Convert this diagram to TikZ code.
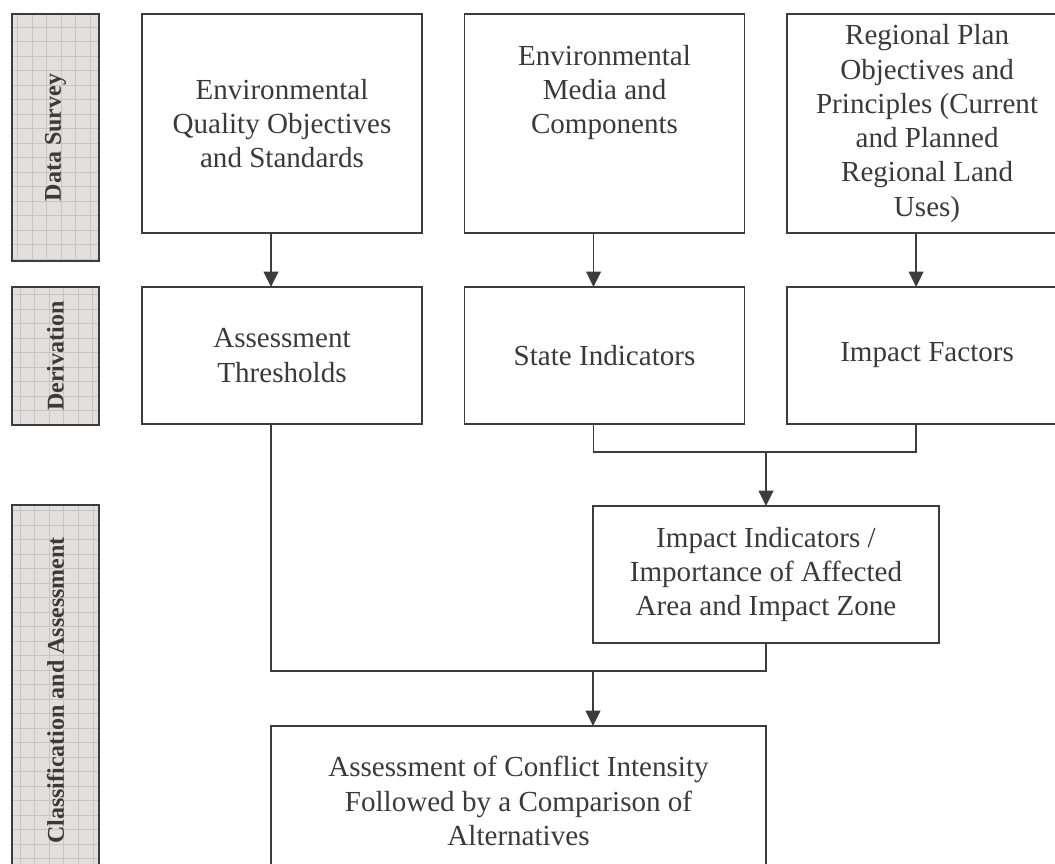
\documentclass[tikz,border=0pt]{standalone}
\usepackage{fontspec}
\setmainfont{Liberation Serif}
\usetikzlibrary{positioning, arrows.meta}
\definecolor{linegray}{HTML}{3C3C3E}
\definecolor{textgray}{HTML}{3A3A3A}
\definecolor{barfill}{HTML}{E3DFDF}
\definecolor{bargrid}{HTML}{C8C4C4}
\tikzset{
	>={Triangle[length=11.5pt,width=11pt]}, % punta de flecha rellena
	link/.style={draw=linegray, line width=1.2pt}, % lineas de conexion
	box/.style={draw=linegray, line width=1.3pt, text=textgray, align=center, outer sep=0pt, inner sep=2pt, font=\fontsize{21.8}{25.7}\selectfont}, % cajas del diagrama
	topbox/.style={box, minimum width=210pt, minimum height=164.25pt}, % fila de datos
	derbox/.style={box, minimum width=210pt, minimum height=102.75pt}, % fila de derivacion
	impbox/.style={box, minimum width=259.5pt, minimum height=102.75pt},
	endbox/.style={box, minimum width=371.25pt, minimum height=112.5pt},
	phase/.style={draw=linegray, line width=1.5pt, fill=barfill, rotate=90, outer sep=0pt,
		minimum height=65.25pt, text=textgray, font=\fontsize{18}{20}\selectfont\bfseries,
		path picture={\draw[bargrid, line width=0.5pt, step=10.875pt] (path picture bounding box.south west) grid (path picture bounding box.north east);}} % barras laterales
}

\begin{document}
\begin{tikzpicture}[x=0.75pt, y=-0.75pt]
	\clip (0,0) rectangle (1055,863);

	\node[phase, minimum width=185.25pt] (ds) at (55.5,137.5) {Data Survey};
	\node[phase, minimum width=103.5pt] (dv) at (55.5,356) {Derivation};
	\node[phase, minimum width=278.25pt] (ca) at (55.5,690.5) {Classification and Assessment};

	\node[topbox, anchor=north west] (eqo) at (142,14) {Environmental\\Quality Objectives\\and Standards};
	\node[topbox, right=31.9pt of eqo] (emc) {Environmental\\Media and\\Components\\~\\~};
	\node[topbox, right=31.9pt of emc] (rpo) {Regional Plan\\Objectives and\\Principles (Current\\and Planned\\Regional Land\\Uses)};

	\node[derbox, below=40.5pt of eqo] (ath) {Assessment\\Thresholds};
	\node[derbox, below=40.5pt of emc] (sti) {State Indicators};
	\node[derbox, below=40.5pt of rpo] (imf) {Impact Factors};

	\node[impbox, anchor=north] (iin) at (766,506) {Impact Indicators /\\Importance of Affected\\Area and Impact Zone};
	\node[endbox, anchor=north west] (aci) at (271,726) {Assessment of Conflict Intensity\\Followed by a Comparison of\\Alternatives};

	\coordinate (j1) at (0,452);
	\coordinate (j2) at (0,671);

	\draw[link, ->] ([xshift=-8.25pt]eqo.south) -- ([xshift=-8.25pt]ath.north);
	\draw[link, ->] ([xshift=-8.25pt]emc.south) -- ([xshift=-8.25pt]sti.north);
	\draw[link, ->] ([xshift=-8.25pt]rpo.south) -- ([xshift=-8.25pt]imf.north);

	\draw[link] ([xshift=-8.25pt]sti.south) |- (j1 -| iin.north) -| ([xshift=-8.25pt]imf.south);
	\draw[link, ->] (j1 -| iin.north) -- (iin.north);

	\draw[link] ([xshift=-8.25pt]ath.south) |- (j2 -| iin.south) -- (iin.south);
	\draw[link, ->] (j2 -| iin.west) -- (iin.west |- aci.north);
\end{tikzpicture}
\end{document}
